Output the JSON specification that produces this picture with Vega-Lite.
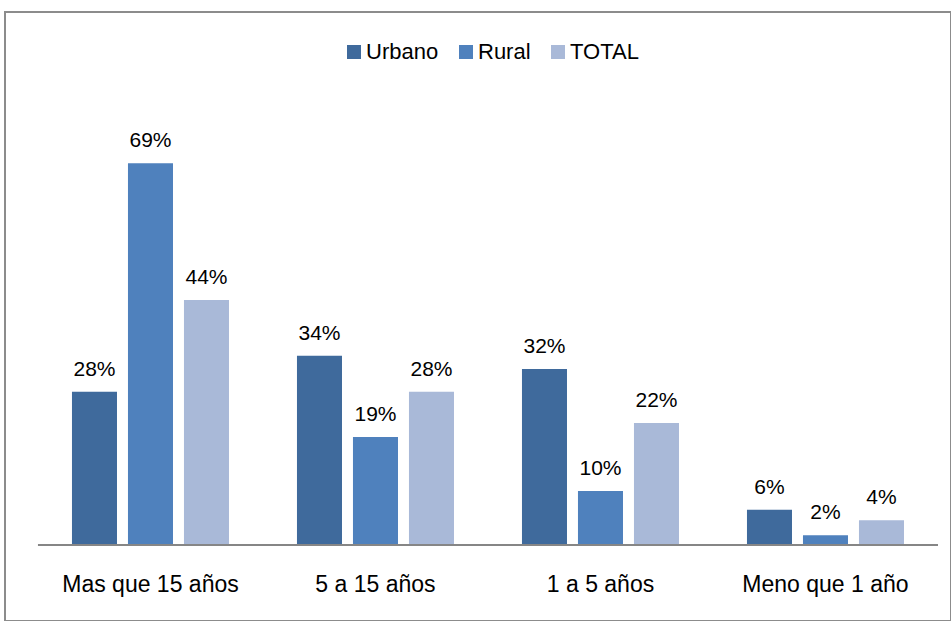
{
  "$schema": "https://vega.github.io/schema/vega-lite/v6.json",
  "width": 946,
  "height": 609,
  "autosize": {"type": "none"},
  "padding": {"left": 5, "top": 12, "right": 0, "bottom": 0},
  "background": "white",
  "config": {
    "view": {"stroke": "#8c8c8c", "strokeWidth": 2},
    "font": "Liberation Sans, Arial, sans-serif"
  },
  "data": {
    "values": [
      {"cat": "Mas que 15 años", "serie": "Urbano", "v": 0.276},
      {"cat": "Mas que 15 años", "serie": "Rural", "v": 0.690},
      {"cat": "Mas que 15 años", "serie": "TOTAL", "v": 0.442},
      {"cat": "5 a 15 años", "serie": "Urbano", "v": 0.341},
      {"cat": "5 a 15 años", "serie": "Rural", "v": 0.194},
      {"cat": "5 a 15 años", "serie": "TOTAL", "v": 0.276},
      {"cat": "1 a 5 años", "serie": "Urbano", "v": 0.317},
      {"cat": "1 a 5 años", "serie": "Rural", "v": 0.096},
      {"cat": "1 a 5 años", "serie": "TOTAL", "v": 0.219},
      {"cat": "Meno que 1 año", "serie": "Urbano", "v": 0.062},
      {"cat": "Meno que 1 año", "serie": "Rural", "v": 0.016},
      {"cat": "Meno que 1 año", "serie": "TOTAL", "v": 0.043}
    ]
  },
  "encoding": {
    "x": {
      "field": "cat",
      "type": "nominal",
      "sort": ["Mas que 15 años", "5 a 15 años", "1 a 5 años", "Meno que 1 año"],
      "scale": {"paddingInner": 0, "paddingOuter": 0.10222, "align": 0.717},
      "axis": {
        "title": null,
        "domain": false,
        "ticks": false,
        "labelAngle": 0,
        "labelFontSize": 23,
        "labelColor": "#000000",
        "labelPadding": 29,
        "labelLimit": 0,
        "offset": -77
      }
    }
  },
  "layer": [
    {
      "mark": {"type": "rect", "color": "#868686"},
      "encoding": {
        "y": {"datum": 0, "type": "quantitative", "scale": {"domain": [-0.1395, 0.9638], "nice": false, "zero": false}, "axis": null},
        "y2": {"datum": -0.0036}
      }
    },
    {
      "mark": {"type": "bar"},
      "encoding": {
        "xOffset": {"field": "serie", "sort": ["Urbano", "Rural", "TOTAL"], "scale": {"paddingInner": 0.196, "paddingOuter": 0.607}},
        "y": {"field": "v", "type": "quantitative", "scale": {"domain": [-0.1395, 0.9638], "nice": false, "zero": false}, "axis": null},
        "color": {
          "field": "serie",
          "type": "nominal",
          "sort": ["Urbano", "Rural", "TOTAL"],
          "scale": {"domain": ["Urbano", "Rural", "TOTAL"], "range": ["#3F6A9C", "#4F81BD", "#A9B9D8"]},
          "legend": {
            "title": null,
            "orient": "none",
            "direction": "horizontal",
            "legendX": 338,
            "legendY": 29,
            "symbolType": "square",
            "symbolSize": 196,
            "symbolStrokeWidth": 0,
            "labelFontSize": 22,
            "labelColor": "#000000",
            "labelOffset": 1,
            "columnPadding": 16
          }
        }
      }
    },
    {
      "mark": {"type": "text", "dy": -16, "fontSize": 21, "color": "#000000", "baseline": "alphabetic"},
      "encoding": {
        "xOffset": {"field": "serie", "sort": ["Urbano", "Rural", "TOTAL"], "scale": {"paddingInner": 0.196, "paddingOuter": 0.607}},
        "y": {"field": "v", "type": "quantitative", "scale": {"domain": [-0.1395, 0.9638], "nice": false, "zero": false}, "axis": null},
        "text": {"field": "v", "type": "quantitative", "format": ".0%"}
      }
    }
  ]
}
